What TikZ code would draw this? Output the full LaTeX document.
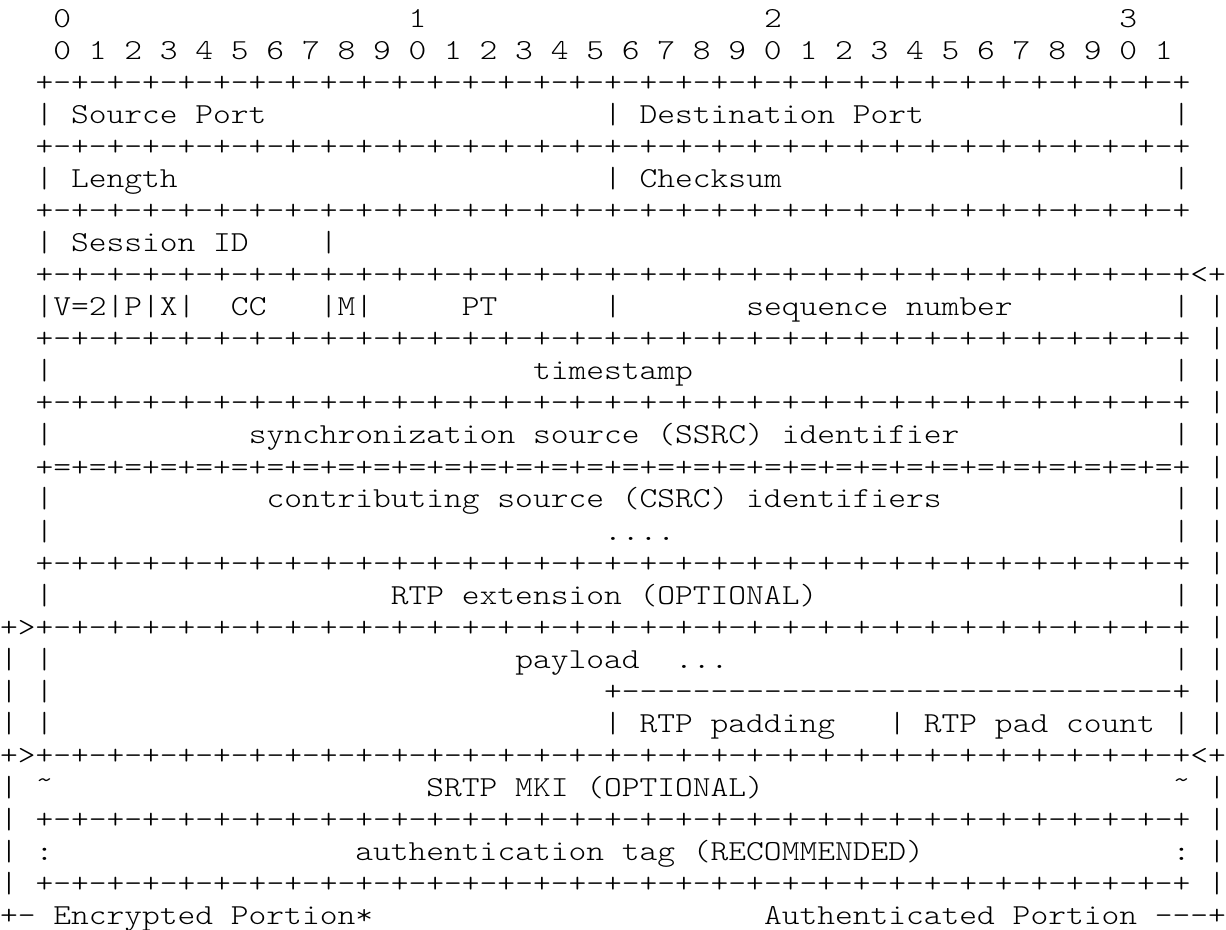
\documentclass[tikz,border=0pt]{standalone}
\usepackage{fontspec}
\usepackage{tikz}
\newfontfamily\asciifont{lmmonolt10-regular.otf}[FakeStretch=1.167]
\def\rulerow{+-+-+-+-+-+-+-+-%
+-+-+-+-+-+-+-+-%
+-+-+-+-+-+-+-+-%
+-+-+-+-+-+-+-+-%
+}
\def\eqrow{+=+=+=+=+=+=+=+=%
+=+=+=+=+=+=+=+=%
+=+=+=+=+=+=+=+=%
+=+=+=+=+=+=+=+=%
+}
\def\padrule{+----------%
----------%
----------%
-+}
\def\tld{\char"02DC\relax}

\begin{document}
\begin{tikzpicture}[x=8.884pt,y=-16pt,
  asc/.style={anchor=base west,inner sep=0pt,outer sep=0pt,
    font=\asciifont\fontsize{14.5pt}{16pt}\selectfont}]
%\draw[help lines] (0,0) grid (69,29);
\useasboundingbox (0,0) rectangle (69,29.0625);

% bit numbers
\foreach \d in {0,1,2,3}
  \node[asc] (tens\d) at (3+20*\d,0.875) {\d};
\node[asc] (bits) at (3,1.875) {0 1 2 3 4 5 6 7 8 9 0 1 2 3 4 5 6 7 8 9 0 1 2 3 4 5 6 7 8 9 0 1};

% separator rows
\foreach \r in {3,5,7,11,13,18,26,28}
  \node[asc] (rule\r) at (2,\r-0.125) {\rulerow};
\node[asc] (rule9) at (2,8.875) {\rulerow<+};
\node[asc] (rule15) at (2,14.875) {\eqrow};
\node[asc] (rule20) at (0,19.875) {+>\rulerow};
\node[asc] (rule24) at (0,23.875) {+>\rulerow<+};
\node[asc] (padrule) at (34,21.875) {\padrule};

% vertical bars
\foreach \r in {4,6,8,12,14,16,17,19,21,22,23}
  \node[asc] (lbar\r) at (2,\r-0.125) {|};
\foreach \r in {4,6,10,23}
  \node[asc] (mbar\r) at (34,\r-0.125) {|};
\foreach \r in {4,6,10,12,14,16,17,19,21,23}
  \node[asc] (rbar\r) at (66,\r-0.125) {|};
\foreach \r in {10,...,23,25,26,27,28}
  \node[asc] (abar\r) at (68,\r-0.125) {|};
\foreach \r in {21,22,23,25,26,27,28}
  \node[asc] (ebar\r) at (0,\r-0.125) {|};
\node[asc] (sessbar) at (18,7.875) {|};
\node[asc] (padbar) at (50,22.875) {|};

% UDP header
\node[asc] (srcport) at (4,3.875) {Source Port};
\node[asc] (dstport) at (36,3.875) {Destination Port};
\node[asc] (length) at (4,5.875) {Length};
\node[asc] (checksum) at (36,5.875) {Checksum};
\node[asc] (sessid) at (4,7.875) {Session ID};

% RTP header
\node[asc] (vpx) at (2,9.875) {|V=2|P|X|};
\node[asc] (cc) at (13,9.875) {CC};
\node[asc] (mark) at (18,9.875) {|M|};
\node[asc] (pt) at (26,9.875) {PT};
\node[asc] (seq) at (42,9.875) {sequence number};
\node[asc] (stamp) at (30,11.875) {timestamp};
\node[asc] (ssrc) at (14,13.875) {synchronization source (SSRC) identifier};
\node[asc] (csrc) at (15,15.875) {contributing source (CSRC) identifiers};
\node[asc] (csrcdots) at (34,16.875) {....};
\node[asc] (rtpext) at (22,18.875) {RTP extension (OPTIONAL)};

% payload
\node[asc] (payload) at (29,20.875) {payload};
\node[asc] (paydots) at (38,20.875) {...};
\node[asc] (padding) at (36,22.875) {RTP padding};
\node[asc] (padcount) at (52,22.875) {RTP pad count};

% SRTP trailer
\node[asc] (mkil) at (2,24.875) {\tld};
\node[asc] (mki) at (24,24.875) {SRTP MKI (OPTIONAL)};
\node[asc] (mkir) at (66,24.875) {\tld};
\node[asc] (tagl) at (2,26.875) {:};
\node[asc] (tag) at (20,26.875) {authentication tag (RECOMMENDED)};
\node[asc] (tagr) at (66,26.875) {:};
\node[asc] (encr) at (0,28.875) {+- Encrypted Portion*};
\node[asc] (auth) at (43,28.875) {Authenticated Portion ---+};
\end{tikzpicture}
\end{document}
